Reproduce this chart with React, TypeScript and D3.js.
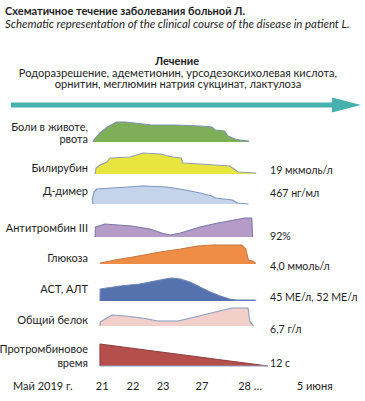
import * as d3 from 'd3';

// rows of the scheme, top to bottom
const rowNames = [['Боли в животе,', 'рвота'], ['Билирубин'], ['Д-димер'], ['Антитромбин III'], ['Глюкоза'], ['АСТ, АЛТ'], ['Общий белок'], ['Протромбиновое', 'время']];
const rowResults = ['', '19 мкмоль/л', '467 нг/мл', '92%', '4,0 ммоль/л', '45 МЕ/л, 52 МЕ/л', '6,7 г/л', '12 с'];
// baseline level of every row (chart units, 0 = bottom row)
const rowLevel = [224, 192, 162, 129, 102, 65, 40, 0];

// profiles: [timeline position 0..100, intensity]
const pain = [[0.5, 0], [1.5, 3], [4.5, 9], [9, 15], [14.5, 20], [19.5, 20], [25, 19], [35, 17], [49, 17], [63.5, 16], [70.5, 15], [72.5, 12], [78, 11], [80, 6], [84, 3], [87, 2], [92, 1], [92, 0]];
const bilirubin = [[1.8, 0], [2.4, 6], [4.7, 9], [8.8, 12], [10.6, 16], [22.4, 17], [30, 21], [40, 20], [47.6, 17], [52.4, 16], [53.5, 11], [63.5, 10], [81, 8], [83.5, 5], [86, 2], [96, 1], [96.5, 0]];
const dimer = [[0.5, 0], [0.2, 5], [1.2, 12], [2.9, 15], [30, 18], [44, 17], [55, 14], [63.5, 11], [70.5, 8], [72.5, 6], [82.5, 4], [85.5, 1], [92, 0]];
const antithrombin = [[1.8, 0], [2, 10], [7.6, 13], [23.5, 11], [34, 8], [41, 4], [46, 2], [52, 4], [63.5, 10], [74, 14], [90, 19], [94, 19], [94.5, 0]];
const glucose = [[4.7, 0], [5, 1], [13.5, 4], [24, 7], [40, 12], [52, 15], [62, 18], [71, 19], [88, 19], [90.5, 15], [92, 4], [94.5, 3], [96, 1], [96, 0]];
const astAlt = [[4.7, 0], [4.8, 12], [16.5, 15], [28, 17], [37, 20], [43, 22], [47, 23], [52, 22], [57.5, 19], [63.5, 14], [69.5, 9], [75.5, 5], [81, 2], [85, 1], [96, 1], [96.5, 0]];
const protein = [[4.7, 0], [4.8, 4], [11.8, 11], [19.4, 10], [29.4, 8], [38.8, 5], [50.6, 5], [60.6, 9], [72.4, 14], [82.4, 18], [91.8, 18], [92.4, 10], [93, 4], [94.7, 1], [94.8, 0]];
const prothrombin = [[4.7, 0], [4.7, 22], [103.5, 0]];

const profiles = [pain, bilirubin, dimer, antithrombin, glucose, astAlt, protein, prothrombin];
const fills = ['#7eaf58', '#e9e53f', '#c4d4eb', '#b49bc8', '#ef8c46', '#5572ae', '#f3cfc9', '#b54f4c'];
const strokes = ['#7d93ae', '#8f9fb0', '#7f97c2', '#7c7aa8', '#c97a45', '#6f86b6', '#8a9ec2', '#8e3f3f'];

const tickLabels = ['21', '22', '23', '27', '28 …', '5 июня'];
const tickPos = [6, 24.1, 41.8, 64.7, 93, 131];

const treatment = ['Родоразрешение, адеметионин, урсодезоксихолевая кислота,', 'орнитин, меглюмин натрия сукцинат, лактулоза'];

const W = 365;
const H = 401;
const font = 'Lato, "Open Sans", sans-serif';
const labelDy = [[-16, -4], [-7], [-14], [-10], [-7], [-13], [-7], [-18, -4]];
const resultDy = [0, -4, -11, -1, 2, -4, 3, -3];

export default function App() {
  const x = d3.scaleLinear().domain([0, 100]).range([92, 262]);
  const y = d3.scaleLinear().domain([0, 250]).range([366, 116]);

  return (
    <svg width={W} height={H} style={{ position: 'absolute', left: 0, top: 0, background: '#fff' }} fontFamily={font}>
      <text x={5} y={10} dominantBaseline="central" fontSize={11} fontWeight={700} fill="#1e1e1e">Схематичное течение заболевания больной Л.</text>
      <text x={5} y={23} dominantBaseline="central" fontSize={11.4} fontStyle="italic" fill="#1e1e1e">Schematic representation of the clinical course of the disease in patient L.</text>

      <text x={177} y={60} textAnchor="middle" dominantBaseline="central" fontSize={11} fontWeight={700} fill="#1e1e1e">Лечение</text>
      {treatment.map((t, i) => (
        <text key={i} x={178} y={72 + i * 11.5} textAnchor="middle" dominantBaseline="central" fontSize={11.1} fill="#1e1e1e">{t}</text>
      ))}

      <line x1={11} x2={334} y1={105} y2={105} stroke="#46b1ad" strokeWidth={5} />
      <path d="M332,97.5 L361,105 L332,112.5 Z" fill="#46b1ad" />

      {profiles.map((p, i) => {
        const base = rowLevel[i];
        const area = d3.area<number[]>().x((d) => x(d[0])).y0(y(base)).y1((d) => y(base + d[1]));
        const top = d3.line<number[]>().x((d) => x(d[0])).y((d) => y(base + d[1]));
        const last = p[p.length - 1];
        return (
          <g key={i}>
            <path d={area(p) || ''} fill={fills[i]} />
            <path d={top(p) || ''} fill="none" stroke={strokes[i]} strokeWidth={1.1} strokeLinejoin="round" />
            {i === 7 && (
              <line x1={x(p[0][0])} x2={x(last[0])} y1={y(base)} y2={y(base)} stroke="#8ea3c4" strokeWidth={1} />
            )}
            {rowNames[i].map((n, j) => (
              <text key={j} x={88} y={y(base) + labelDy[i][j]} textAnchor="end" dominantBaseline="central" fontSize={11} fill="#1e1e1e">{n}</text>
            ))}
            {rowResults[i] && (
              <text x={270} y={y(base) + resultDy[i]} dominantBaseline="central" fontSize={10.6} fill="#1e1e1e">{rowResults[i]}</text>
            )}
          </g>
        );
      })}

      <text x={13} y={385} dominantBaseline="central" fontSize={11} fill="#1e1e1e">Май 2019 г.</text>
      {tickLabels.map((t, i) => (
        <text key={t} x={x(tickPos[i])} y={385} textAnchor="middle" dominantBaseline="central" fontSize={11} fill="#1e1e1e">{t}</text>
      ))}
    </svg>
  );
}
